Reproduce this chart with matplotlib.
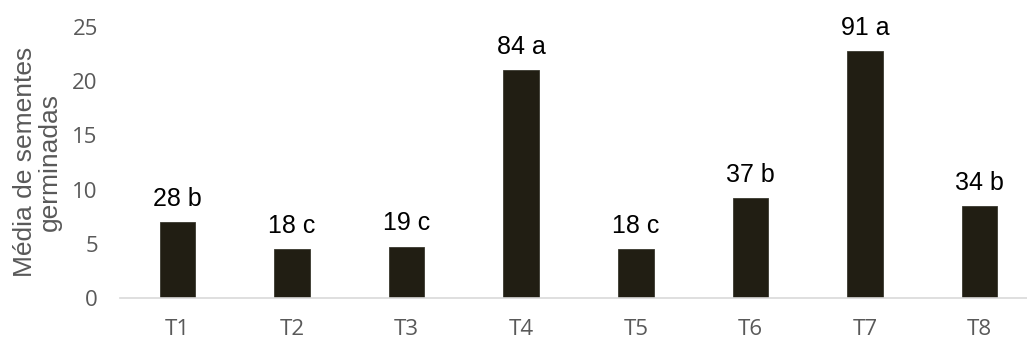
import matplotlib.pyplot as plt

tratamentos = ['T1', 'T2', 'T3', 'T4', 'T5', 'T6', 'T7', 'T8']
medias = [7, 4.5, 4.75, 21, 4.5, 9.25, 22.75, 8.5]
rotulos = ['28 b', '18 c', '19 c', '84 a', '18 c', '37 b', '91 a', '34 b']
y_ticks = [0, 5, 10, 15, 20, 25]

cinza = '#595959'

fig = plt.figure(figsize=(10.27, 3.53), dpi=100)
ax = fig.add_axes([120 / 1027, 55 / 353, 917 / 1027, 271 / 353])

x = range(len(tratamentos))
barras = ax.bar(x, medias, width=0.31, color='#211e13', edgecolor='#3a382f', linewidth=0.6)

for xi, v, r in zip(x, medias, rotulos):
    ax.annotate(r, (xi, v), xytext=(0, 8), textcoords='offset points',
                ha='center', va='bottom', fontsize=18, family='Liberation Sans', color='black')

ax.set_xlim(-0.5, 7.5)
ax.set_ylim(0, 25)
ax.set_yticks(y_ticks)
ax.set_xticks(list(x))
ax.set_xticklabels(tratamentos)

for s in ['top', 'right', 'left']:
    ax.spines[s].set_visible(False)
ax.spines['bottom'].set_color('#d9d9d9')
ax.spines['bottom'].set_linewidth(1.2)

ax.tick_params(axis='y', length=0, pad=16, labelsize=16, labelcolor=cinza)
ax.tick_params(axis='x', length=0, pad=15, labelsize=16, labelcolor=cinza)
for lab in ax.get_xticklabels() + ax.get_yticklabels():
    lab.set_family('Open Sans')

fig.text(37 / 1027, 1 - 162 / 353, 'Média de sementes\ngerminadas', rotation=90,
         ha='center', va='center', fontsize=19, family='Liberation Sans',
         color=cinza, linespacing=1.05)

fig.savefig('out.png', dpi=100)
